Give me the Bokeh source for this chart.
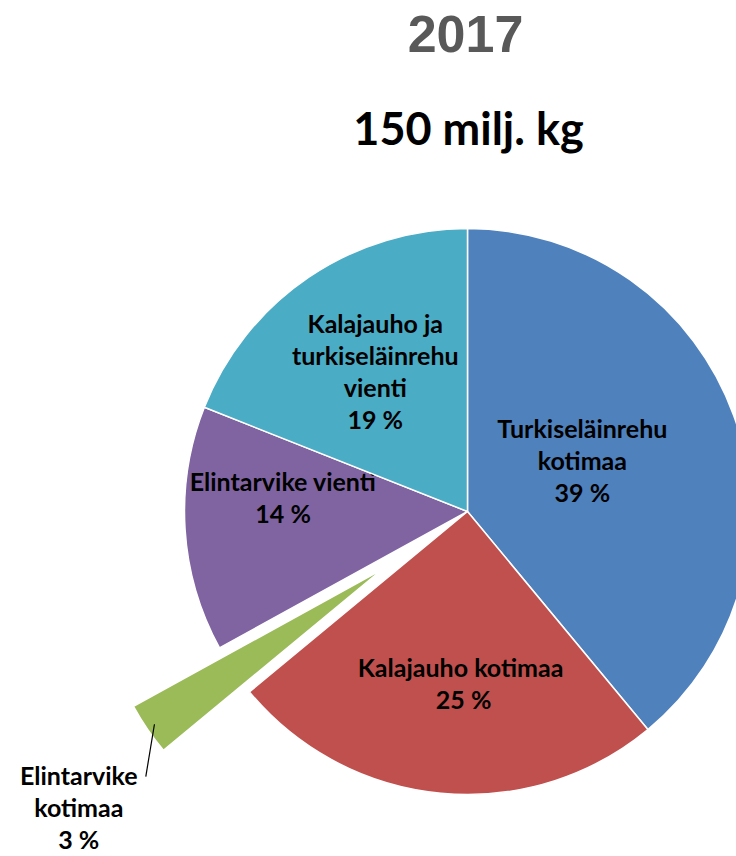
import numpy as np
from bokeh.plotting import figure
from bokeh.models import Range1d
from bokeh.core.properties import value
from bokeh.embed import file_html
from bokeh.resources import INLINE

# ---- data ----
title_year = "2017"
subtitle = "150 milj. kg"
categories = ["Turkiseläinrehu kotimaa", "Kalajauho kotimaa", "Elintarvike kotimaa",
              "Elintarvike vienti", "Kalajauho ja turkiseläinrehu vienti"]
label_lines = [["Turkiseläinrehu", "kotimaa"],
               ["Kalajauho  kotimaa"],
               ["Elintarvike", "kotimaa"],
               ["Elintarvike vienti"],
               ["Kalajauho ja", "turkiseläinrehu", "vienti"]]
shares = [39, 25, 3, 14, 19]

# ---- styles / layout ----
colors = ["#4F81BD", "#C0504D", "#9BBB59", "#8064A2", "#4BACC6"]
explode = [0, 0, 104, 0, 0]
label_dist = [126, 172, 488, 185, 168]
label_nudge = [-4.5, -4.1, -3.0, 8.2, 0.9]

W, H = 736, 856
CX, CY = 467, 856 - 511
R = 283
LINE_H = 32
label_font = value("Lato")

p = figure(width=W, height=H, output_backend="svg", toolbar_location=None,
           x_range=Range1d(0, W), y_range=Range1d(856 - H, 856),
           min_border=0, outline_line_color=None)
p.axis.visible = False
p.grid.visible = False
p.background_fill_color = "white"
p.border_fill_color = "white"

vals = np.array(shares, dtype=float)
frac = vals / vals.sum()
cum_end = np.cumsum(frac)
cum_start = cum_end - frac

for i in range(len(shares)):
    th_mid = 2 * np.pi * (cum_start[i] + cum_end[i]) / 2
    ox = explode[i] * np.sin(th_mid)
    oy = explode[i] * np.cos(th_mid)
    p.wedge(x=CX + ox, y=CY + oy, radius=R,
            start_angle=np.pi / 2 - 2 * np.pi * cum_end[i],
            end_angle=np.pi / 2 - 2 * np.pi * cum_start[i],
            fill_color=colors[i], line_color="white", line_width=1.5)

    th_lab = th_mid + np.deg2rad(label_nudge[i])
    lx = CX + label_dist[i] * np.sin(th_lab)
    ly = CY + label_dist[i] * np.cos(th_lab)
    lines = label_lines[i] + [f"{shares[i]} %"]
    n = len(lines)
    for k, t in enumerate(lines):
        p.text(x=[lx], y=[ly + (n - 1) / 2 * LINE_H - k * LINE_H], text=[t],
               text_font=label_font, text_font_style="bold", text_font_size="25px",
               text_color="black", text_align="center", text_baseline="middle")

    if explode[i] > 0:
        sx = CX + ox + 0.97 * R * np.sin(th_mid)
        sy = CY + oy + 0.97 * R * np.cos(th_mid)
        ex = lx + 67
        ey = ly + LINE_H - 2
        p.line(x=[sx, ex], y=[sy, ey], line_color="black", line_width=1.2)

p.text(x=[465], y=[856 - 33], text=[title_year], text_font=value("Liberation Sans"),
       text_font_style="bold", text_font_size="52px", text_color="#595959",
       text_align="center", text_baseline="middle")
p.text(x=[468], y=[856 - 127], text=[subtitle], text_font=value("Lato"),
       text_font_style="bold", text_font_size="45px", text_color="black",
       text_align="center", text_baseline="middle")

open("out.html", "w").write(file_html(p, INLINE))
